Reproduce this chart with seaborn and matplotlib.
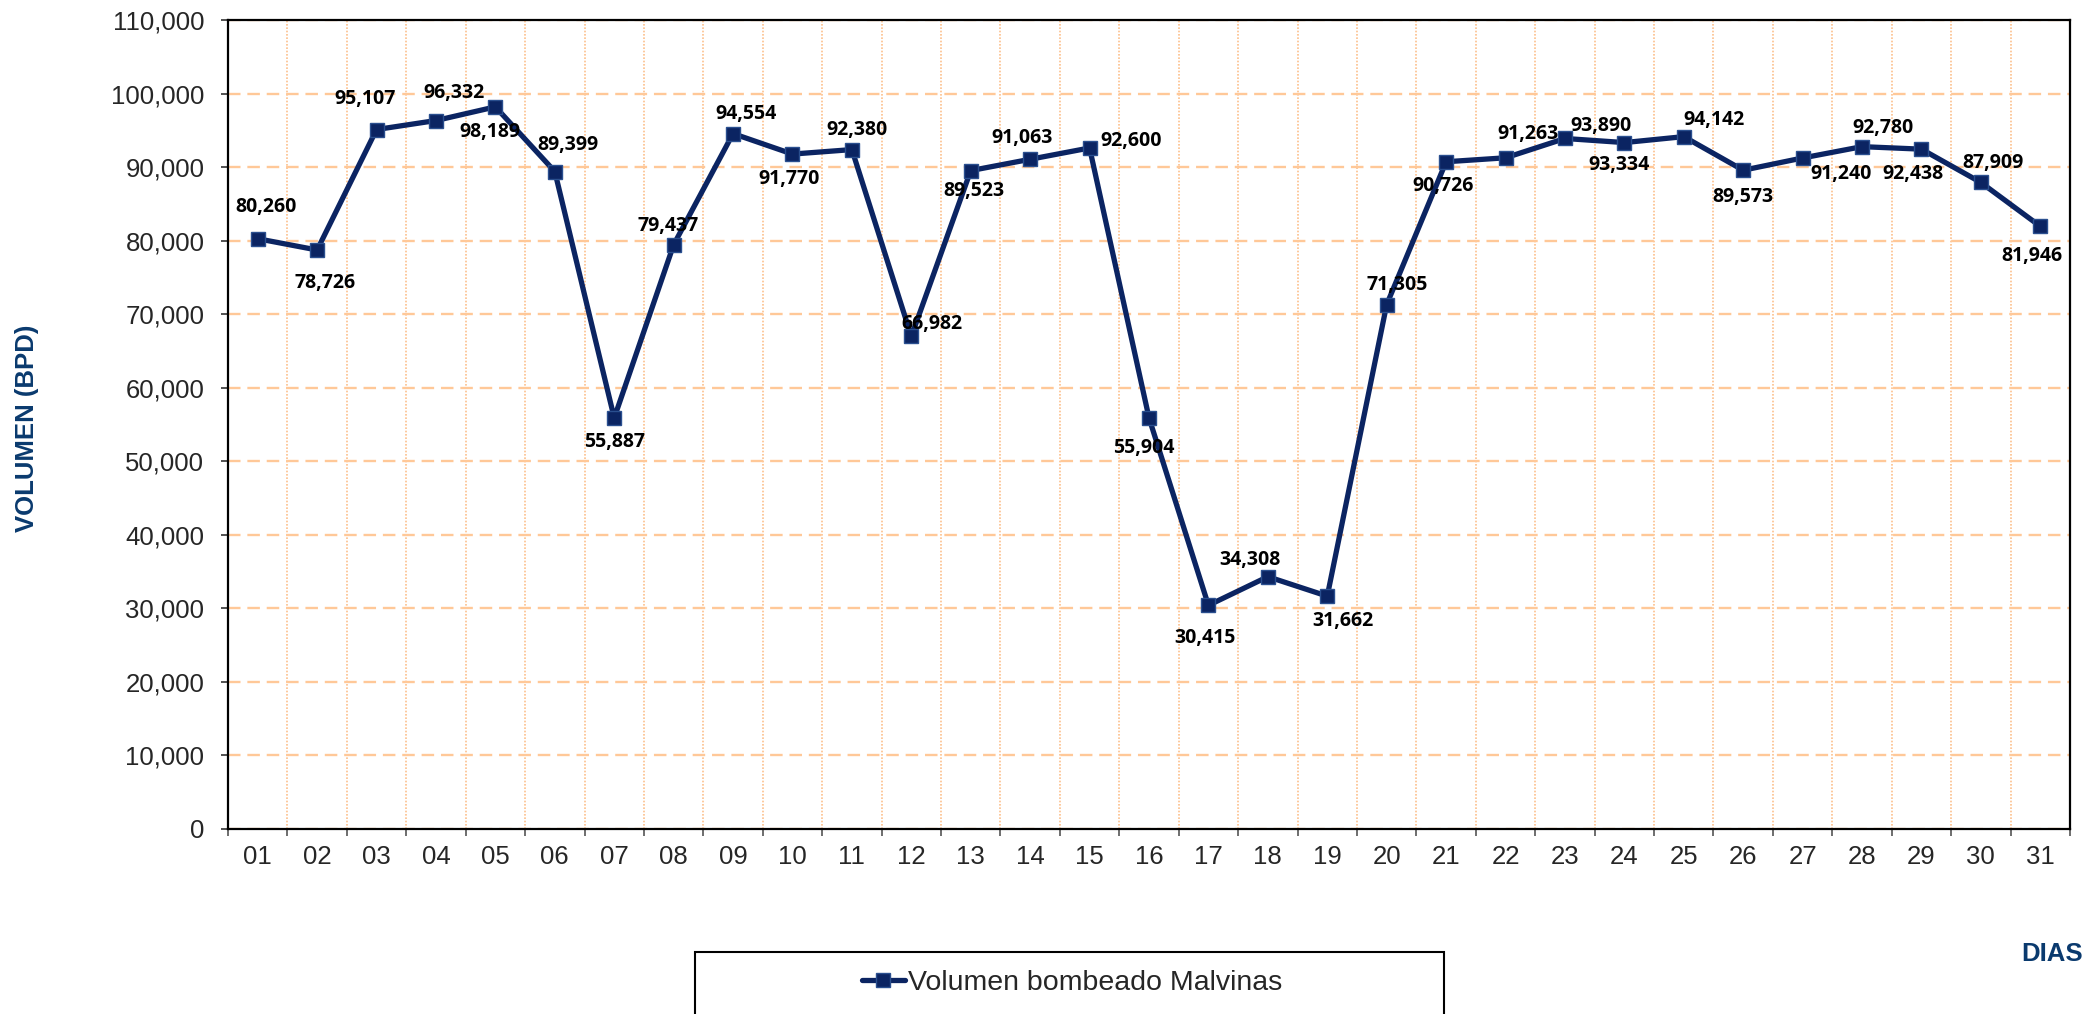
import numpy as np
import pandas as pd
import matplotlib
matplotlib.use("Agg")
import matplotlib.pyplot as plt
import seaborn as sns
from matplotlib.patches import Rectangle
from matplotlib.lines import Line2D
from matplotlib.ticker import FuncFormatter

# datos del mes
dias = ["01", "02", "03", "04", "05", "06", "07", "08", "09", "10",
        "11", "12", "13", "14", "15", "16", "17", "18", "19", "20",
        "21", "22", "23", "24", "25", "26", "27", "28", "29", "30", "31"]
volumen = [80260, 78726, 95107, 96332, 98189, 89399, 55887, 79437, 94554, 91770,
           92380, 66982, 89523, 91063, 92600, 55904, 30415, 34308, 31662, 71305,
           90726, 91263, 93890, 93334, 94142, 89573, 91240, 92780, 92438, 87909,
           81946]

# desplazamiento de cada etiqueta (pixeles)
offsets = [(8, 32), (8, -33), (-11, 31), (18, 28), (-6, -25), (13, 27), (0, -24),
           (-6, 19), (13, 20), (-3, -25), (5, 20), (21, 12), (3, -20), (-8, 21),
           (42, 7), (-5, -30), (-3, -33), (-18, 17), (16, -25), (11, 20),
           (-3, -24), (22, 24), (36, 12), (-5, -22), (30, 17), (0, -27),
           (38, -16), (21, 19), (-9, -25), (12, 19), (-8, -30)]

df = pd.DataFrame({"pos": np.arange(len(dias)), "dia": dias, "volumen": volumen})

navy = "#0b2462"
edge_blue = "#2a4f8f"
grid_orange = "#ffc898"
label_blue = "#0a3a6e"

sns.set_style("white")
plt.rcParams["font.family"] = ["Liberation Sans", "DejaVu Sans"]

W, H = 2098, 1014
fig = plt.figure(figsize=(W / 100, H / 100), dpi=100)
ax = fig.add_axes([228 / W, 1 - 829 / H, (2070 - 228) / W, (829 - 20) / H])

sns.lineplot(data=df, x="pos", y="volumen", ax=ax, color=navy, lw=3.8,
             marker="s", markersize=10.5, markerfacecolor=navy,
             markeredgecolor=edge_blue, markeredgewidth=1.0, zorder=3)

for (x, y), (dx, dy) in zip(zip(df["pos"], df["volumen"]), offsets):
    ax.annotate(f"{y:,}", (x, y), xytext=(dx, dy), textcoords="offset pixels",
                ha="center", va="center", fontsize=14, fontweight="bold",
                family=["Open Sans", "DejaVu Sans"], color="black", zorder=4)

ax.set_xlim(-0.5, len(dias) - 0.5)
ax.set_ylim(0, 110000)
ax.set_yticks(np.arange(0, 110001, 10000))
ax.yaxis.set_major_formatter(FuncFormatter(lambda v, p: f"{int(v):,}"))

ax.set_xticks(np.arange(-0.5, len(dias), 1))
ax.set_xticklabels([])
ax.set_xticks(df["pos"], minor=True)
ax.set_xticklabels(dias, minor=True)

ax.tick_params(axis="y", which="major", length=5, width=1.2, color="#333333",
               labelsize=18.5, pad=12, direction="out", left=True)
ax.tick_params(axis="x", which="major", length=5, width=1.2, color="#555555",
               direction="out", bottom=True)
ax.tick_params(axis="x", which="minor", length=0, labelsize=18.5, pad=11.5)

ax.set_axisbelow(True)
ax.grid(axis="y", which="major", color=grid_orange, lw=1.7, ls=(0, (5.3, 2.9)))
ax.grid(axis="x", which="major", color="#fcc08c", lw=1.2, ls=(0, (1, 1)))

for s in ax.spines.values():
    s.set_visible(True)
    s.set_color("black")
    s.set_linewidth(1.6)

ax.set_xlabel("")
ax.set_ylabel("")
fig.text(27 / W, 1 - 428 / H, "VOLUMEN (BPD)", rotation=90, ha="center",
         va="center", fontsize=18.5, fontweight="bold", color=label_blue)
fig.text(2052 / W, 1 - 954 / H, "DIAS", ha="center", va="center",
         fontsize=18.5, fontweight="bold", color=label_blue)

# leyenda con su recuadro
fig.patches.append(Rectangle((695 / W, 1 - 1030 / H), (1444 - 695) / W, (1030 - 952) / H,
                             transform=fig.transFigure, fill=True, facecolor="white",
                             edgecolor="black", lw=1.5, zorder=1))
handle = Line2D([], [], color=navy, lw=3.8, marker="s", markersize=10.5,
                markerfacecolor=navy, markeredgecolor=edge_blue)
fig.legend([handle], ["Volumen bombeado Malvinas"], loc="center",
           bbox_to_anchor=(1072 / W, 1 - 983 / H), frameon=False,
           handlelength=1.5, handletextpad=0.1,
           prop={"family": ["Liberation Sans Narrow", "Liberation Sans"], "size": 20.5})

fig.savefig("out.png", dpi=100)
